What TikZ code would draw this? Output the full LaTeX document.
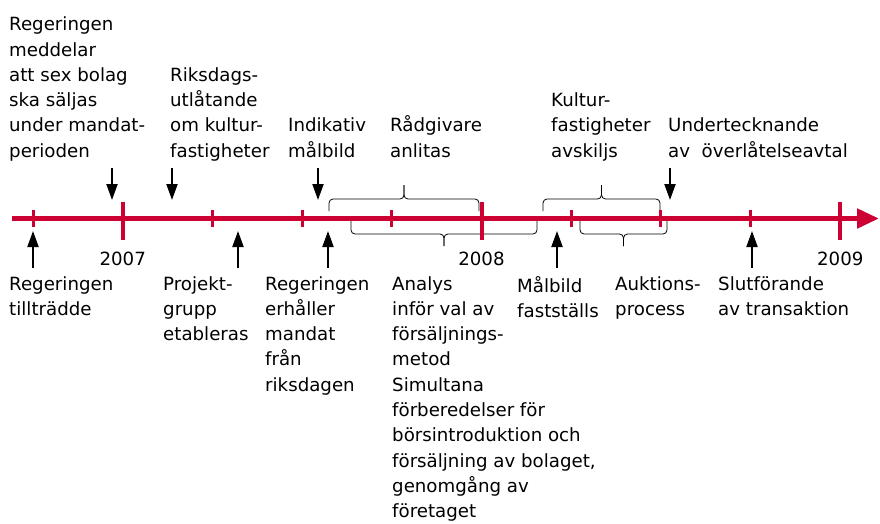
\documentclass[tikz,border=0pt]{standalone}
\usepackage{fontspec}
\setmainfont{DejaVu Sans}
\usetikzlibrary{arrows.meta}
\definecolor{timeline}{RGB}{204,0,51}
% brace from #1 to #2, ends at #3, bar at #4, tip at #5
\newcommand{\spanbrace}[5]{%
  \draw[brace] (#1,#3) -- (#1,#4) -- ({(#1+#2)/2},#4) -- ({(#1+#2)/2},#5);
  \draw[brace] ({(#1+#2)/2},#5) -- ({(#1+#2)/2},#4) -- (#2,#4) -- (#2,#3);}

\begin{document}
\begin{tikzpicture}[x=1pt, y=-1pt, font=\fontsize{18.2}{25.3}\selectfont,
    upper/.style={anchor=south west, align=left, inner sep=0pt,
      execute at begin node=\strut, execute at end node=\strut},
    lower/.style={anchor=north west, align=left, inner sep=0pt,
      execute at begin node=\strut, execute at end node=\strut},
    year/.style={anchor=base, inner sep=0pt},
    event/.style={line width=2pt, -{Triangle[length=16pt,width=11pt]}},
    brace/.style={line width=0.8pt, rounded corners=4pt}]
    \useasboundingbox (0,0) rectangle (880,524);

    % texts above the line
    \node (govnews) [upper] at (9,165) {Regeringen\\meddelar\\att sex bolag\\ska säljas\\under mandat-\\perioden};
    \node (riksdag) [upper] at (170,165) {Riksdags-\\utlåtande\\om kultur-\\fastigheter};
    \node (indik) [upper] at (288,165) {Indikativ\\målbild};
    \node (advisors) [upper] at (390,165) {Rådgivare\\anlitas};
    \node (split) [upper] at (551,165) {Kultur-\\fastigheter\\avskiljs};
    \node (signing) [upper] at (668,165) {Undertecknande\\av\ \ överlåtelseavtal};

    % texts below the line
    \node (govstart) [lower] at (9,276) {Regeringen\\tillträdde};
    \node (project) [lower] at (163,276) {Projekt-\\grupp\\etableras};
    \node (mandate) [lower] at (265,276) {Regeringen\\erhåller\\mandat\\från\\riksdagen};
    \node (analysis) [lower] at (392,276) {Analys\\inför val av\\försäljnings-\\metod\\Simultana\\förberedelser för\\börsintroduktion och\\försäljning av bolaget,\\genomgång av\\företaget};
    \node (target) [lower] at (517,276) {Målbild\\fastställs};
    \node (auction) [lower] at (615,276) {Auktions-\\process};
    \node (closing) [lower] at (718,276) {Slutförande\\av transaktion};

    % braces
    \spanbrace{329}{479}{211}{199}{185}
    \spanbrace{351}{537}{221}{234}{246}
    \spanbrace{543}{660}{211}{199}{185}
    \spanbrace{580}{667}{221}{234}{246}

    % the time line
    \coordinate (start) at (12,218.5);
    \coordinate (end) at (879,218.5);
    \draw[timeline, line width=5pt, -{Triangle[length=22pt,width=19pt]}] (start) -- (end);
    \foreach \k in {0,...,9}
        \draw[timeline, line width=3pt] ({33+89.7*\k},210) -- ({33+89.7*\k},227);
    \foreach \k/\yr in {1/2007, 5/2008, 9/2009} {
        \draw[timeline, line width=4pt] ({33+89.7*\k},202) -- ({33+89.7*\k},240);
        \node (y\yr) [year] at ({33+89.7*\k},265) {\yr};
    }

    % event arrows
    \foreach \x [count=\i] in {112,172,318,670} {
        \coordinate (d\i) at (\x,168);
        \coordinate (d\i tip) at (\x,200);
        \draw[event] (d\i) -- (d\i tip);
    }
    \foreach \x [count=\i] in {33,238,328,557,752} {
        \coordinate (u\i) at (\x,268);
        \coordinate (u\i tip) at (\x,231);
        \draw[event] (u\i) -- (u\i tip);
    }
\end{tikzpicture}
\end{document}
